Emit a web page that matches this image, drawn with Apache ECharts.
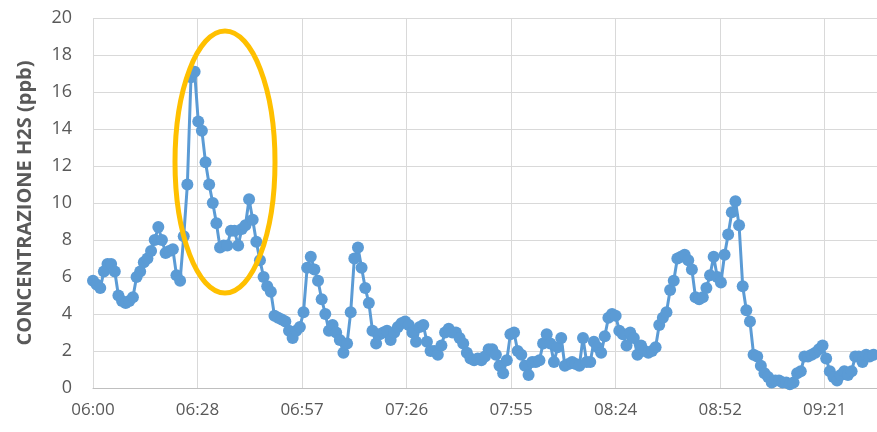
<!DOCTYPE html>
<html>
<head>
<meta charset="utf-8">
<script src="https://cdn.jsdelivr.net/npm/echarts@6/dist/echarts.min.js"></script>
<style>
html,body{margin:0;padding:0;background:#fff;}
#chart{width:877px;height:432px;}
</style>
</head>
<body>
<div id="chart"></div>
<script>
// Sampling: one reading per minute starting at 06:00
var startTime = '06:00';
var stepMinutes = 1;
// H2S concentration (ppb), per hour block
var values06 = [5.8,5.6,5.4,6.3,6.7,6.7,6.3,5.0,4.7,4.6,4.7,4.9,6.0,6.3,6.8,7.0,7.4,8.0,8.7,8.0,
  7.3,7.4,7.5,6.1,5.8,8.2,11.0,16.8,17.1,14.4,13.9,12.2,11.0,10.0,8.9,7.6,7.7,7.7,8.5,8.5,
  7.7,8.6,8.8,10.2,9.1,7.9,6.9,6.0,5.5,5.2,3.9,3.8,3.7,3.6,3.1,2.7,3.1,3.3,4.1,6.5];
var values07 = [7.1,6.4,5.8,4.8,4.0,3.1,3.4,3.0,2.6,1.9,2.4,4.1,7.0,7.6,6.5,5.4,4.6,3.1,2.4,2.9,
  3.0,3.1,2.6,3.0,3.3,3.5,3.6,3.4,3.0,2.5,3.3,3.4,2.5,2.0,2.0,1.8,2.3,3.0,3.2,3.0,
  3.0,2.7,2.4,1.9,1.6,1.5,1.6,1.5,1.7,2.1,2.1,1.8,1.2,0.8,1.5,2.9,3.0,2.0,1.8,1.2];
var values08 = [0.7,1.4,1.4,1.5,2.4,2.9,2.4,1.4,2.2,2.7,1.2,1.3,1.4,1.3,1.2,2.7,1.4,1.4,2.5,2.2,
  1.9,2.8,3.8,4.0,3.9,3.1,2.9,2.3,3.0,2.7,1.8,2.3,2.0,1.9,2.0,2.2,3.4,3.8,4.1,5.3,
  5.8,7.0,7.1,7.2,6.9,6.4,4.9,4.8,4.9,5.4,6.1,7.1,6.0,5.7,7.2,8.3,9.5,10.1,8.8,5.5];
var values09 = [4.2,3.6,1.8,1.7,1.2,0.8,0.6,0.3,0.4,0.4,0.3,0.3,0.2,0.3,0.8,0.9,1.7,1.7,1.8,1.9,
  2.1,2.3,1.6,0.9,0.6,0.4,0.7,0.9,0.7,0.9,1.7,1.7,1.4,1.8,1.7,1.8];
var yTicks = [0,2,4,6,8,10,12,14,16,18,20];
var xTickLabels = ['06:00','06:28','06:57','07:26','07:55','08:24','08:52','09:21'];
var yTitle = 'CONCENTRAZIONE H2S (ppb)';

var allValues = values06.concat(values07, values08, values09);
var sm = startTime.split(':');
var startMin = (+sm[0]) * 60 + (+sm[1]);
var seriesData = allValues.map(function (v, i) { return [i * stepMinutes, v]; });

function fmt(m) {
  var tot = startMin + Math.floor(m + 1e-6);
  var h = Math.floor(tot / 60), mm = tot % 60;
  return (h < 10 ? '0' : '') + h + ':' + (mm < 10 ? '0' : '') + mm;
}

var chart = echarts.init(document.getElementById('chart'), null, {renderer: 'canvas'});
var labelFont = 'Open Sans, Liberation Sans, sans-serif';
chart.setOption({
  animation: false,
  backgroundColor: '#ffffff',
  grid: {left: 93, right: -1, top: 18, bottom: 44, containLabel: false},
  xAxis: {
    type: 'value', min: 0, max: 216, interval: 28.8,
    axisLine: {show: true, lineStyle: {color: '#bfbfbf', width: 1}},
    axisTick: {show: false},
    splitLine: {show: true, lineStyle: {color: '#d9d9d9', width: 1}},
    axisLabel: {
      color: '#595959', fontSize: 17, fontFamily: labelFont, margin: 14,
      showMaxLabel: false,
      formatter: function (v) { return fmt(v); }
    }
  },
  yAxis: {
    type: 'value', min: yTicks[0], max: yTicks[yTicks.length - 1], interval: 2,
    name: yTitle, nameLocation: 'middle', nameRotate: 90, nameGap: 58,
    nameTextStyle: {color: '#595959', fontSize: 20, fontWeight: 'bold', fontFamily: labelFont},
    axisLine: {show: false},
    axisTick: {show: false},
    splitLine: {show: true, lineStyle: {color: '#d9d9d9', width: 1}},
    axisLabel: {color: '#595959', fontSize: 18, fontFamily: labelFont, margin: 21}
  },
  series: [{
    type: 'line',
    data: seriesData,
    symbol: 'circle',
    symbolSize: 12,
    showSymbol: true,
    lineStyle: {color: '#5b9bd5', width: 3},
    itemStyle: {color: '#5b9bd5', borderWidth: 0},
    z: 3
  }],
  graphic: [{
    type: 'ellipse',
    shape: {cx: 225, cy: 162, rx: 50, ry: 131},
    style: {fill: 'none', stroke: '#ffc000', lineWidth: 5},
    z: 10
  }]
});
</script>
</body>
</html>
